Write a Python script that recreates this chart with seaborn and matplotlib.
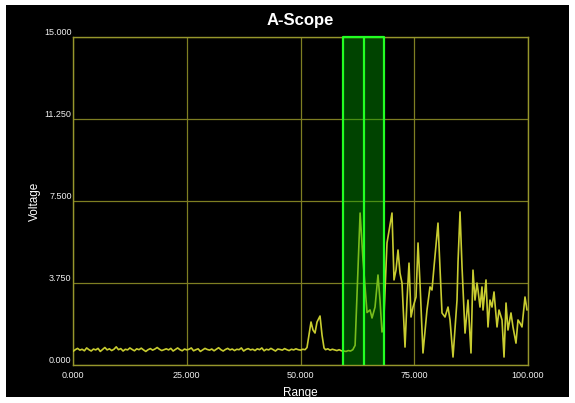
import numpy as np
import pandas as pd
import matplotlib
matplotlib.use("Agg")
import matplotlib.pyplot as plt
from matplotlib.patches import Rectangle
import seaborn as sns

# ---- trace data -------------------------------------------------------
# quiet noise floor before the first return (range 0 .. 51000, every 500)
floor_range = list(range(0, 51001, 500))
floor_volts = [
    620, 700, 760, 680, 720, 650, 780, 700, 640, 730,
    690, 760, 620, 710, 800, 690, 740, 660, 720, 830,
    700, 750, 640, 720, 690, 780, 710, 650, 740, 700,
    770, 690, 620, 700, 750, 680, 730, 800, 720, 660,
    700, 740, 690, 760, 640, 710, 780, 700, 650, 730,
    690, 720, 780, 650, 700, 740, 620, 690, 760, 710,
    680, 730, 650, 720, 790, 700, 640, 710, 760, 690,
    730, 660, 720, 700, 780, 640, 710, 750, 690, 720,
    660, 740, 700, 780, 650, 720, 690, 760, 700, 640,
    730, 710, 680, 750, 700, 660, 720, 690, 740, 700,
    680, 720, 700,
]

# small double bump, floor again, then the strong returns
echo_range = [
    51430, 51870, 52310, 52750, 53190, 53630, 54290, 54730, 55170,
    55500, 56000, 56500, 57000, 57500, 58000, 58500, 59000, 59500,
    60000, 60500, 61000, 61500, 62000, 63100, 63740, 64620, 65280,
    65720, 66380, 67030, 67470, 67910, 68240, 69010, 70110, 70550,
    70990, 71430, 71870, 72310, 72970, 73410, 73850, 74290, 74730,
    75390, 75830, 76260, 76920, 77800, 78460, 78900, 79340, 80220,
    80660, 81100, 81760, 82420, 82860, 83520, 84400, 84620, 85060,
    85500, 86160, 86810, 87470, 87910, 88350, 88790, 89010, 89450,
    89890, 90110, 90770, 91210, 91650, 92090, 92530, 93190, 93630,
    94290, 94730, 95170, 95600, 96260, 96700, 97360, 97800, 98240,
    98680, 99340, 99780,
]
echo_volts = [
    800, 1370, 1966, 1600, 1463, 1966, 2240, 1370, 780,
    700, 740, 680, 720, 690, 660, 700, 650, 640,
    620, 660, 640, 700, 900, 6950, 4800, 2400, 2520,
    2150, 2650, 4115, 2970, 1510, 1700, 5580, 6950, 3890,
    4340, 5260, 4200, 3750, 820, 2970, 4660, 2195, 2650,
    3110, 5580, 3750, 550, 2515, 3570, 3430, 4480, 6490,
    4480, 2380, 2195, 2650, 2060, 365, 2970, 4710, 7000,
    4480, 1460, 2970, 550, 4340, 2970, 3750, 3430, 2650,
    3570, 2515, 3890, 1740, 2970, 2650, 3340, 1740, 2515,
    2060, 365, 2835, 1600, 2380, 1740, 1000, 2060, 1920,
    1740, 3110, 2515,
]

# range gate: start, centre, end
gate_edges = [59300, 64000, 68400]

x_ticks = [0, 25000, 50000, 75000, 100000]
x_tick_labels = ["0.000", "25.000", "50.000", "75.000", "100.000"]
y_ticks = [0, 3750, 7500, 11250, 15000]
y_tick_labels = ["0.000", "3.750", "7.500", "11.250", "15.000"]

trace = pd.DataFrame({
    "Range": floor_range + echo_range,
    "Voltage": floor_volts + echo_volts,
})

# ---- styling ----------------------------------------------------------
sns.set_style("dark")
plt.rcParams["font.family"] = ["Liberation Sans", "DejaVu Sans"]

W, H = 575, 403
fig = plt.figure(figsize=(W / 100, H / 100), dpi=100, facecolor="white")
# black scope panel inside a thin white margin
fig.patches.append(Rectangle((6 / W, 6 / H), (569 - 6) / W, (397 - 5) / H,
                             transform=fig.transFigure, facecolor="black",
                             edgecolor="none", zorder=-10))

ax = fig.add_axes([73 / W, (H - 365) / H, (528 - 73) / W, (365 - 37) / H])
ax.set_facecolor("black")

grid_col = "#7e7e22"
frame_col = "#96962c"
trace_col = "#c8cc30"
gate_col = "#22ff22"

sns.lineplot(data=trace, x="Range", y="Voltage", ax=ax, color=trace_col,
             linewidth=1.2, estimator=None, zorder=3)

ax.set_xlim(0, 100000)
ax.set_ylim(0, 15000)
ax.set_xticks(x_ticks)
ax.set_xticklabels(x_tick_labels)
ax.set_yticks(y_ticks)
ax.set_yticklabels(y_tick_labels)
for lab in ax.get_yticklabels():
    lab.set_verticalalignment("bottom")
ax.tick_params(axis="both", length=0, colors="#f0f0f0", labelsize=6.5)
ax.tick_params(axis="x", pad=4)
ax.tick_params(axis="y", pad=1)

ax.grid(True, color=grid_col, linewidth=0.9)
ax.set_axisbelow(True)
for s in ax.spines.values():
    s.set_visible(True)
    s.set_color(frame_col)
    s.set_linewidth(1.0)

# range gate overlay
ax.axvspan(gate_edges[0], gate_edges[-1], color="#00a800", alpha=0.4,
           lw=0, zorder=4)
for g in gate_edges:
    ax.axvline(g, color=gate_col, linewidth=1.6, zorder=5)
ax.plot([gate_edges[0], gate_edges[-1]], [15000, 15000], color=gate_col,
        linewidth=1.6, zorder=5, clip_on=False)

ax.set_xlabel("Range", color="white", fontsize=8.5)
ax.set_ylabel("Voltage", color="white", fontsize=8.5)
ax.xaxis.set_label_coords(0.5, -(393 - 365) / 328)
ax.xaxis.label.set_verticalalignment("center")
ax.yaxis.set_label_coords(-(73 - 35) / 455, 0.5)
ax.yaxis.label.set_verticalalignment("center")

ax.text(0.5, 1 + 17 / 328, "A-Scope", transform=ax.transAxes, ha="center",
        va="center", color="white", fontsize=12, fontweight="bold")

fig.savefig("out.png", dpi=100, facecolor="white")
